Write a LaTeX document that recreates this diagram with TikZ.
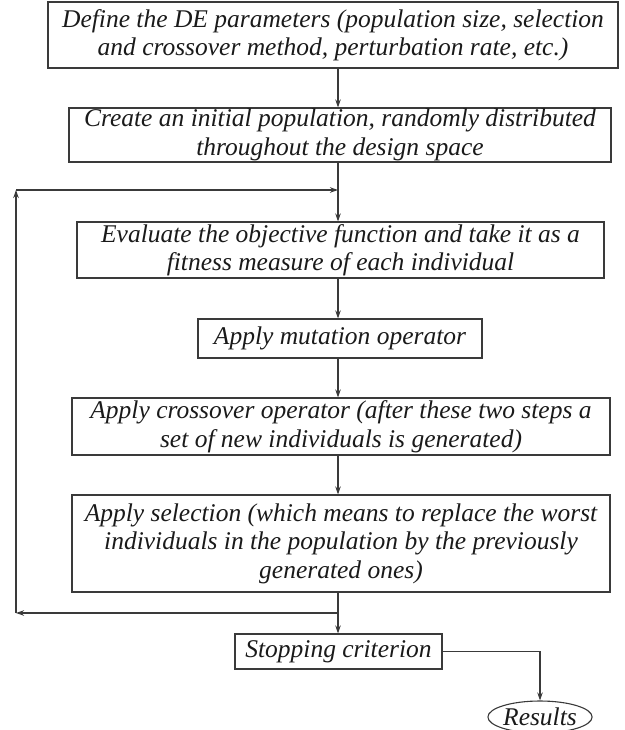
\documentclass[tikz,border=0pt]{standalone}
\usepackage{fontspec}
\setmainfont{Liberation Serif}
\usetikzlibrary{arrows.meta,shapes.geometric}
\definecolor{linegray}{HTML}{3A3A3A}
\definecolor{textdark}{HTML}{1A1A1A}
\begin{document}
\begin{tikzpicture}[x=1pt,y=-1pt,
 box/.style={draw=linegray, line width=1.1pt, align=center, font=\fontsize{25.5}{28.5}\selectfont\itshape, inner sep=0pt, text=textdark},
 arr/.style={draw=linegray, line width=1.1pt, -{Stealth[length=8pt,width=5.5pt]}},
 ln/.style={draw=linegray, line width=1.1pt}]
\useasboundingbox (0,0) rectangle (624,730);
\node[box, minimum width=570pt, minimum height=66pt] (def) at (333,35) {Define the DE parameters (population size, selection\\and crossover method, perturbation rate, etc.)};
\node[box, minimum width=542pt, minimum height=54pt] (create) at (340,135) {Create an initial population, randomly distributed\\throughout the design space};
\node[box, minimum width=527pt, minimum height=56pt] (eval) at (340.5,250) {Evaluate the objective function and take it as a\\fitness measure of each individual};
\node[box, minimum width=284pt, minimum height=39pt] (mut) at (340,338.5) {Apply mutation operator};
\node[box, minimum width=538pt, minimum height=57pt] (cross) at (341,426.5) {Apply crossover operator (after these two steps a\\set of new individuals is generated)};
\node[box, minimum width=538pt, minimum height=97pt] (sel) at (341,543.5) {Apply selection (which means to replace the worst\\individuals in the population by the previously\\generated ones)};
\node[box, minimum width=207pt, minimum height=35pt] (stop) at (338.5,651.5) {Stopping criterion};
\node[box, ellipse, minimum width=94pt, minimum height=32pt] (res) at (540,717) {Results};
\coordinate (j) at (338,613);
\coordinate (bl) at (16,613);
\coordinate (tl) at (16,190);
\coordinate (tj) at (338,190);
\draw[arr] (def.south -| tj) -- (create.north -| tj);
\draw[arr] (create.south -| tj) -- (eval.north -| tj);
\draw[arr] (eval.south -| tj) -- (mut.north -| tj);
\draw[arr] (mut.south -| tj) -- (cross.north -| tj);
\draw[arr] (cross.south -| tj) -- (sel.north -| tj);
\draw[ln] (sel.south -| j) -- (j);
\draw[arr] (j) -- (bl);
\draw[arr] (bl) -- (tl);
\draw[arr] (tl) -- (tj);
\draw[arr] (j) -- (stop.north -| j);
\draw[arr] (stop.east) -| (res.north);
\end{tikzpicture}
\end{document}
